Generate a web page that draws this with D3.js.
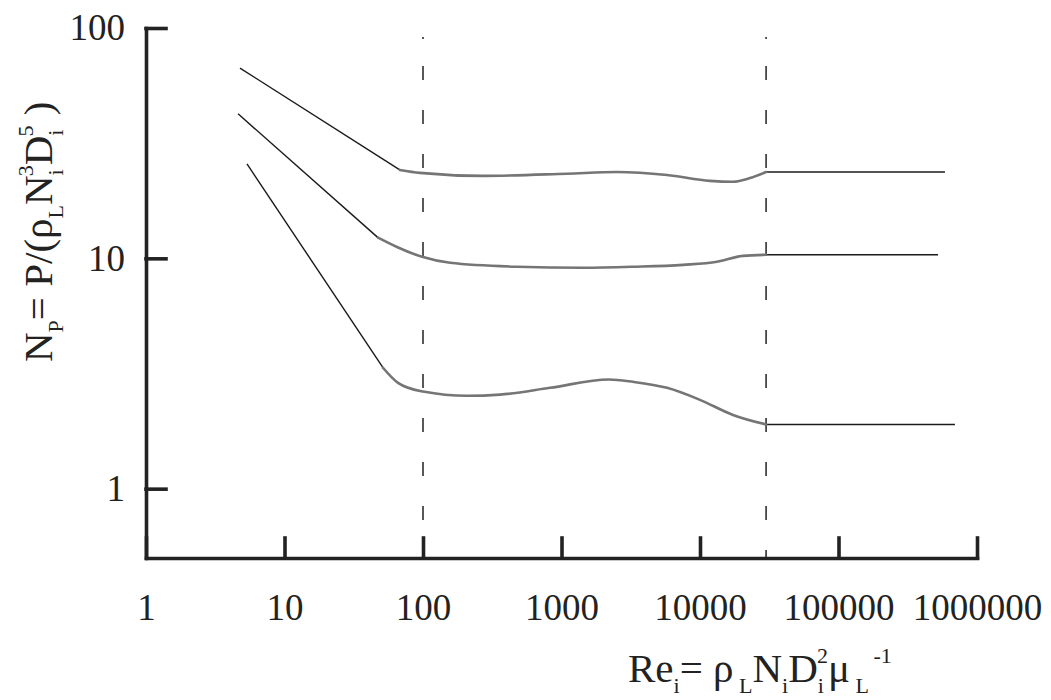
<!DOCTYPE html>
<html>
<head>
<meta charset="utf-8">
<script src="https://cdn.jsdelivr.net/npm/d3@7"></script>
<style>
  body { margin: 0; background: #fff; }
  svg text { font-family: "Liberation Serif", "Times New Roman", serif; fill: #222; }
</style>
</head>
<body>
<svg id="canvas" width="1051" height="700"></svg>
<script>
// measured (grey) parts of the three curves, Re vs Np
const top_re = [68, 95, 271, 1096, 2516, 5780, 11810, 17300, 22960, 30000];
const top_np = [24.2, 23.5, 22.8, 23.3, 23.7, 23.0, 21.7, 21.5, 22.3, 23.7];
const mid_re = [47.3, 64.9, 98.4, 157, 477, 1430, 3280, 7540, 13270, 20430, 30000];
const mid_np = [12.3, 11.2, 10.15, 9.56, 9.19, 9.10, 9.19, 9.37, 9.66, 10.25, 10.36];
const bot_re = [51.4, 66, 100, 208, 360, 826, 2200, 3280, 5780, 10000, 17300, 30000];
const bot_np = [3.35, 2.88, 2.64, 2.53, 2.56, 2.74, 2.98, 2.91, 2.74, 2.43, 2.09, 1.90];

// straight black parts: laminar slope at start, flat turbulent part at end
const slope_start_re = [4.77, 4.62, 5.36];
const slope_start_np = [67, 42.4, 25.7];
const plateau_end_re = [587000, 523000, 693000];

const x_ticks = [1, 10, 100, 1000, 10000, 100000, 1000000];
const y_ticks = [1, 10, 100];
const dashed_re = [100, 30000];

// [text, 0 normal / 1 sub / -1 sup, back step]
const x_title = [["Re", 0], ["i", 1], ["= ρ", 0], [" L", 1], ["N", 0], ["i", 1], ["D", 0], ["i", 1], ["2", -1, 7], ["μ", 0], [" L", 1], [" -1", -1]];
const y_title = [["N", 0], ["P", 1], ["= P/(ρ", 0], ["L", 1], ["N", 0], ["i", 1], ["3", -1, 7], ["D", 0], ["i", 1], ["5", -1, 7], [" )", 0]];

const svg = d3.select("svg#canvas");

const x = d3.scaleLog().domain([1, 1e6]).range([146, 977]);
const y = d3.scaleLog().domain([0.5, 100]).range([558, 28]);

const grey_re = [top_re, mid_re, bot_re];
const grey_np = [top_np, mid_np, bot_np];

// dashed verticals: small dot on top, then regular dashes
const dash_pattern = ["2,27"].concat(d3.range(12).map(() => "14,30")).join(",");
svg.selectAll("line.dash")
    .data(dashed_re)
    .join("line")
    .attr("class", "dash")
    .attr("x1", d => x(d))
    .attr("x2", d => x(d))
    .attr("y1", 37)
    .attr("y2", 558)
    .attr("stroke", "#222")
    .attr("stroke-width", 1.5)
    .attr("stroke-dasharray", dash_pattern);

const line = d3.line()
    .x(d => x(d[0]))
    .y(d => y(d[1]));

// black slopes
svg.selectAll("path.slope")
    .data(grey_re)
    .join("path")
    .attr("class", "slope")
    .attr("d", (r, i) => line([[slope_start_re[i], slope_start_np[i]], [r[0], grey_np[i][0]]]))
    .attr("fill", "none")
    .attr("stroke", "#1a1a1a")
    .attr("stroke-width", 1.4);

// black plateaus
svg.selectAll("path.plateau")
    .data(grey_re)
    .join("path")
    .attr("class", "plateau")
    .attr("d", (r, i) => {
        const last = grey_np[i][grey_np[i].length - 1];
        return line([[r[r.length - 1], last], [plateau_end_re[i], last]]);
    })
    .attr("fill", "none")
    .attr("stroke", "#1a1a1a")
    .attr("stroke-width", 1.4);

// grey measured curves
const smooth = d3.line()
    .x(d => x(d[0]))
    .y(d => y(d[1]))
    .curve(d3.curveMonotoneX);

svg.selectAll("path.grey")
    .data(grey_re)
    .join("path")
    .attr("class", "grey")
    .attr("d", (r, i) => smooth(r.map((v, j) => [v, grey_np[i][j]])))
    .attr("fill", "none")
    .attr("stroke", "#757575")
    .attr("stroke-width", 2.6)
    .attr("stroke-linecap", "round");

// axes
const xg = svg.append("g")
    .attr("transform", "translate(0,558)")
    .call(d3.axisBottom(x)
        .tickValues(x_ticks)
        .tickFormat(d3.format("d"))
        .tickSizeInner(-20)
        .tickSizeOuter(0)
        .tickPadding(36));

const yg = svg.append("g")
    .attr("transform", "translate(146,0)")
    .call(d3.axisLeft(y)
        .tickValues(y_ticks)
        .tickFormat(d3.format("d"))
        .tickSizeInner(-20)
        .tickSizeOuter(0)
        .tickPadding(21));

[xg, yg].forEach(g => {
    g.attr("font-family", null).attr("font-size", null);
    g.selectAll("path, line")
        .attr("stroke", "#222")
        .attr("stroke-width", 3.6)
        .attr("stroke-linecap", "square");
    g.selectAll("text")
        .attr("font-size", 37)
        .attr("fill", "#222");
});

// rich text with sub/superscripts
const rich = (sel, parts) => {
    let shift = 0;
    parts.forEach(([t, s, back]) => {
        const target = s === 1 ? 11 : s === -1 ? -19 : 0;
        sel.append("tspan")
            .attr("dy", target - shift)
            .attr("dx", back ? -back : 0)
            .attr("font-size", s === 0 ? 41 : 22)
            .text(t);
        shift = target;
    });
};

const xt = svg.append("text")
    .attr("x", 628)
    .attr("y", 682)
    .attr("xml:space", "preserve");
rich(xt, x_title);

const yt = svg.append("text")
    .attr("transform", "translate(52,362) rotate(-90)")
    .attr("xml:space", "preserve");
rich(yt, y_title);
</script>
</body>
</html>
